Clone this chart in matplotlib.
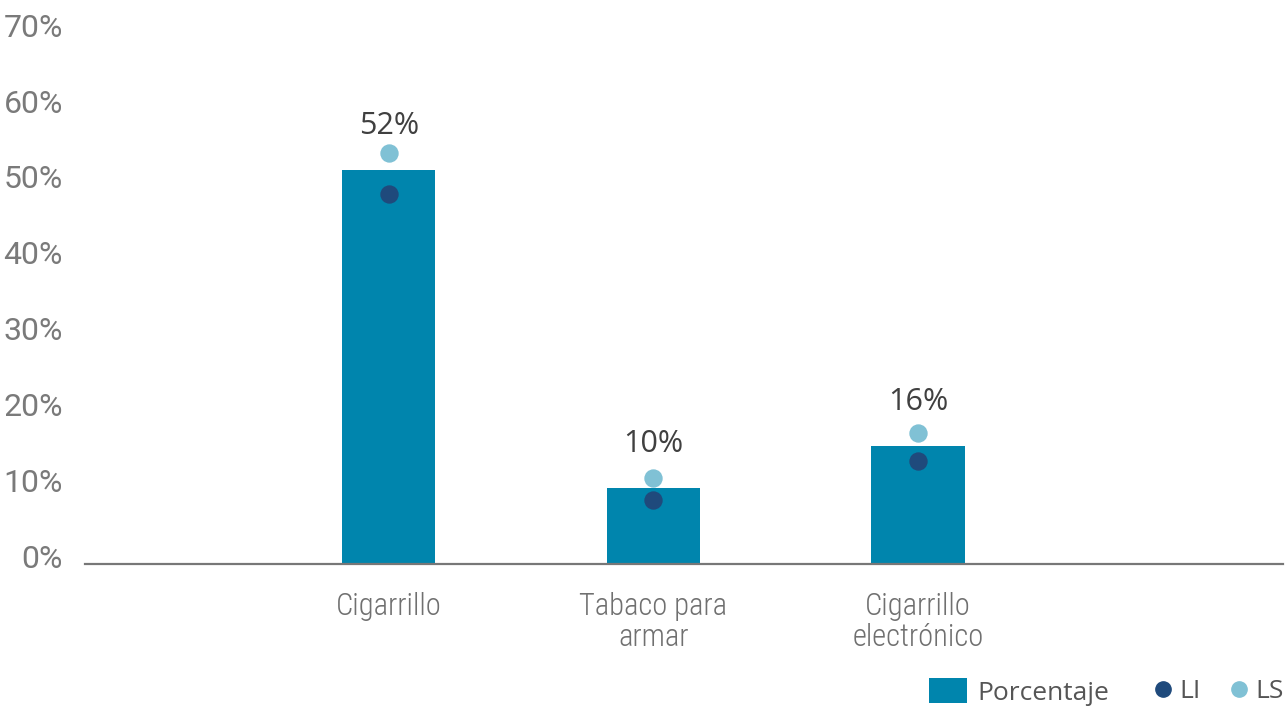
import matplotlib.pyplot as plt
from matplotlib import font_manager
from matplotlib.lines import Line2D
from matplotlib.patches import Patch
from matplotlib.transforms import ScaledTranslation

# Data
categories = ["Cigarrillo", "Tabaco para\narmar", "Cigarrillo\nelectrónico"]
porcentaje = [52.0, 10.0, 15.6]
li = [48.8, 8.4, 13.6]
ls = [54.2, 11.3, 17.3]
yticks = [0, 10, 20, 30, 40, 50, 60, 70]

bar_color = "#0085AD"
li_color = "#1F4A7C"
ls_color = "#80C1D5"

installed = {f.name for f in font_manager.fontManager.ttflist}
cond_font = "Roboto Condensed" if "Roboto Condensed" in installed else "Roboto"
cond_size = 22 if cond_font == "Roboto Condensed" else 19

fig = plt.figure(figsize=(12.88, 7.07), dpi=100)
ax = fig.add_axes([85 / 1288, 1 - 564 / 707, 1198 / 1288, 530.6 / 707])

x = range(len(categories))
ax.bar(x, porcentaje, width=0.352, color=bar_color, zorder=2)
ax.scatter(x, li, s=175, color=li_color, zorder=3, linewidths=0)
ax.scatter(x, ls, s=175, color=ls_color, zorder=3, linewidths=0)

# value labels above each bar
for xi, v in zip(x, porcentaje):
    ax.annotate(f"{int(v + 0.5)}%", (xi, v), xytext=(0, 26), textcoords="offset points",
                ha="center", va="baseline", fontsize=22, color="#404040",
                family="Open Sans")

ax.set_xlim(-1.149, 3.38)
ax.set_ylim(0, 70)
ax.set_yticks(yticks)
ax.set_yticklabels([f"{t}%" for t in yticks], family="Roboto",
                   fontsize=23, color="#7A7A7A")
ax.set_xticks(list(x))
ax.set_xticklabels(categories, family=cond_font, fontweight="light", fontsize=cond_size,
                   color="#707070", linespacing=1.08)
ax.tick_params(axis="y", length=0, pad=16)
ax.tick_params(axis="x", length=0, pad=20)
for lab in ax.get_yticklabels():
    lab.set_transform(lab.get_transform() + ScaledTranslation(0, 0.08, fig.dpi_scale_trans))

for side in ["top", "right", "left"]:
    ax.spines[side].set_visible(False)
ax.spines["bottom"].set_color("#777777")
ax.spines["bottom"].set_linewidth(1.6)

# legend: bar patch on its own, then the two interval markers
legend_y = 1 - 692 / 707
fig.legend(handles=[Patch(facecolor=bar_color, label="Porcentaje")],
           loc="center left", bbox_to_anchor=(929 / 1288, legend_y),
           frameon=False, prop={"family": "Open Sans", "size": 19},
           handlelength=1.45, handleheight=1.05, handletextpad=0.38,
           borderaxespad=0, borderpad=0, labelcolor="#555555")
marker_handles = [
    Line2D([], [], marker="o", linestyle="", markersize=11, color=li_color, label="LI"),
    Line2D([], [], marker="o", linestyle="", markersize=11, color=ls_color, label="LS"),
]
fig.legend(handles=marker_handles, ncol=2, loc="center left",
           bbox_to_anchor=(1154 / 1288, legend_y), frameon=False,
           prop={"family": "Open Sans", "size": 19},
           handlelength=0.68, handletextpad=0.28, columnspacing=1.1,
           borderaxespad=0, borderpad=0, labelcolor="#555555")

fig.savefig("out.png", dpi=100)
